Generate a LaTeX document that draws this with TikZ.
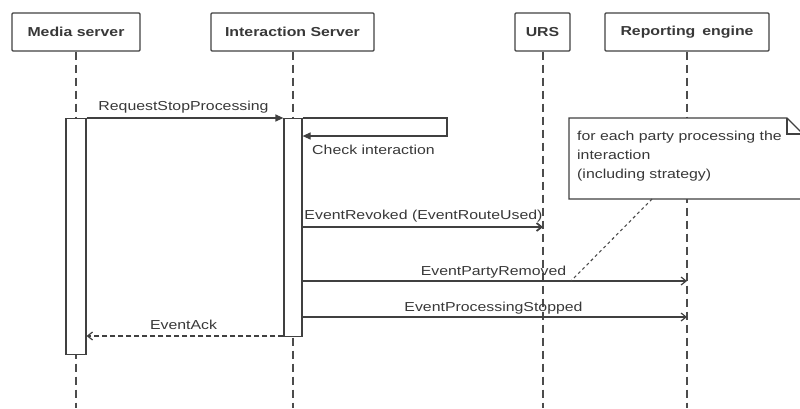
\documentclass[tikz,border=0pt]{standalone}
\usepackage{fontspec}
\setmainfont{Liberation Sans}[FakeStretch=1.22]
\usetikzlibrary{arrows.meta}
\begin{document}
\begin{tikzpicture}[x=1pt,y=-1pt,
  every node/.style={font=\fontsize{13}{19}\selectfont, text=black!78},
  head/.style={draw=black!75, line width=1.3pt, rounded corners=1pt, minimum height=38pt, inner sep=0pt, font=\fontsize{13}{19}\selectfont\bfseries},
  life/.style={draw=black!70, line width=1.2pt, dash pattern=on 8pt off 5pt},
  actbox/.style={draw=black!75, line width=1.2pt, fill=white},
  sync/.style={draw=black!75, line width=1.2pt, -{Triangle[length=8pt,width=7pt]}},
  async/.style={draw=black!75, line width=1.2pt, -{Straight Barb[length=5pt,width=8pt]}},
  reply/.style={draw=black!75, line width=1.2pt, dash pattern=on 5pt off 3pt, -{Straight Barb[length=5pt,width=8pt]}},
  lbl/.style={anchor=base, inner sep=0pt},
  notebox/.style={draw=black!75, line width=1.2pt, fill=white},
  anchorline/.style={draw=black!70, line width=1.1pt, dash pattern=on 3pt off 3pt}
]
\useasboundingbox (0,0) rectangle (800,408);
% headers
\node[head, minimum width=128pt] (ms) at (76,32) {Media server};
\node[head, minimum width=163pt] (is) at (292.5,32) {Interaction Server};
\node[head, minimum width=55pt] (urs) at (542.5,32) {URS};
\node[head, minimum width=164pt] (re) at (687,32) {Reporting\hspace{7pt}engine};
% lifeline ends
\coordinate (msend) at (76,408);
\coordinate (isend) at (293,408);
\coordinate (ursend) at (543,408);
\coordinate (reend) at (687,408);
\draw[life] (ms.south -| msend) -- (msend);
\draw[life] (is.south -| isend) -- (isend);
\draw[life] (urs.south -| ursend) -- (ursend);
\draw[life] (re.south -| reend) -- (reend);
% note
\coordinate (nA) at (569,118);
\coordinate (nB) at (787,118);
\coordinate (nC) at (803,134);
\coordinate (nD) at (803,199);
\coordinate (nE) at (569,199);
\coordinate (nF) at (787,134);
\draw[notebox] (nA) -- (nB) -- (nC) -- (nD) -- (nE) -- cycle;
\draw[draw=black!75, line width=1.2pt] (nB) -- (nF) -- (nC);
\node[anchor=north west, align=left, inner sep=0pt] (notetext) at (577,131) {for each party processing the\\interaction\\(including strategy)};
% activations
\node[actbox, minimum width=20pt, minimum height=236pt, inner sep=0pt, anchor=north] (actM) at (76,118) {};
\node[actbox, minimum width=18pt, minimum height=218pt, inner sep=0pt, anchor=north] (actI) at (293,118) {};
% messages
\draw[sync] (actM.north east) -- (actI.north west);
\node[lbl] (l1) at (183.5,110) {RequestStopProcessing};
% self message
\coordinate (s1) at (447,118);
\coordinate (s2) at (447,136);
\coordinate (s3) at (actI.east |- s2);
\draw[sync] (actI.north east) -- (s1) -- (s2) -- (s3);
\node[lbl] (l2) at (373.5,154) {Check interaction};
% EventRevoked
\coordinate (r1) at (actI.east |- 0,227);
\coordinate (r2) at (543,227);
\draw[async, line width=1.8pt] (r1) -- (r2);
\node[lbl] (l3) at (423.5,219) {EventRevoked (EventRouteUsed)};
% EventPartyRemoved
\coordinate (p1) at (actI.east |- 0,281);
\coordinate (p2) at (687,281);
\draw[async] (p1) -- (p2);
\node[lbl] (l4) at (493.5,275) {EventPartyRemoved};
% EventProcessingStopped
\coordinate (q1) at (actI.east |- 0,317);
\coordinate (q2) at (687,317);
\draw[async] (q1) -- (q2);
\node[lbl] (l5) at (493.5,311) {EventProcessingStopped};
% EventAck
\coordinate (a1) at (actI.west |- 0,336);
\coordinate (a2) at (actM.east |- 0,336);
\draw[reply] (a1) -- (a2);
\node[lbl] (l6) at (183.5,329) {EventAck};
% note anchor
\coordinate (nbot) at (652,199);
\coordinate (ntip) at (571,281);
\draw[anchorline] (nbot) -- (ntip);
\end{tikzpicture}
\end{document}
